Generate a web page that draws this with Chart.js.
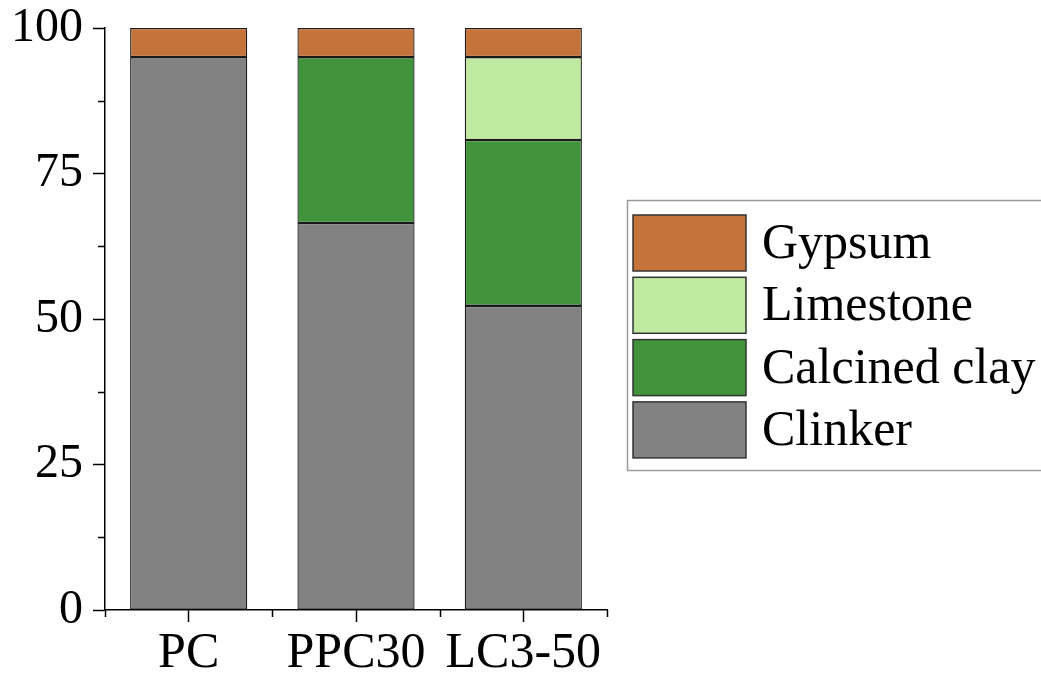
<!DOCTYPE html>
<html>
<head>
<meta charset="utf-8">
<script src="https://cdn.jsdelivr.net/npm/chart.js@4"></script>
<style>
    html, body { margin: 0; padding: 0; background: #fff; }
    canvas { display: block; }
</style>
</head>
<body>
<canvas id="grafica" width="1041" height="677"></canvas>
<script>
// ==============================
// DATOS
// ==============================
const categorias = ["PC", "PPC30", "LC3-50"];

const clinker = [95, 66.5, 52.25];
const arcillaCalcinada = [0, 28.5, 28.5];
const caliza = [0, 0, 14.25];
const yeso = [5, 5, 5];

const ticksY = [0, 25, 50, 75, 100];

// ==============================
// ESTILO
// ==============================
const FUENTE = '"Liberation Serif", "Times New Roman", serif';

const colores = {
    clinker: "#828282",
    arcilla: "#41943b",
    caliza: "#bfe8a0",
    yeso: "#c4733a"
};

function dataset(label, data, color) {
    return {
        label: label,
        data: data,
        backgroundColor: color,
        borderColor: "#1a1a1a",
        borderWidth: 1.3,
        borderSkipped: false,
        barPercentage: 0.7,
        categoryPercentage: 1
    };
}

// ==============================
// PLUGIN: ticks menores + leyenda
// ==============================
const extras = {
    id: "extras",
    afterDraw(chart) {
        const { ctx, chartArea, scales } = chart;
        const x = scales.x;
        const y = scales.y;

        ctx.save();
        ctx.strokeStyle = "#000";
        ctx.lineWidth = 1.5;

        // ticks menores eje Y (cada 12.5)
        for (let i = 0; i < ticksY.length - 1; i++) {
            const v = (ticksY[i] + ticksY[i + 1]) / 2;
            const py = Math.round(y.getPixelForValue(v)) + 0.5;
            ctx.beginPath();
            ctx.moveTo(chartArea.left, py);
            ctx.lineTo(chartArea.left - 7, py);
            ctx.stroke();
        }

        // ticks menores eje X (entre categorias)
        for (let i = 0; i <= categorias.length; i++) {
            const px = Math.round(x.getPixelForValue(i - 0.5)) + 0.5;
            ctx.beginPath();
            ctx.moveTo(px, chartArea.bottom);
            ctx.lineTo(px, chartArea.bottom + 7);
            ctx.stroke();
        }

        // leyenda con recuadro
        const lx = 627, ly = 200;
        ctx.strokeStyle = "#9a9a9a";
        ctx.lineWidth = 1.5;
        ctx.strokeRect(lx + 0.5, ly + 0.5, 440, 270);

        const items = chart.data.datasets.slice().reverse();
        ctx.font = "50px " + FUENTE;
        ctx.textBaseline = "middle";
        ctx.textAlign = "left";
        items.forEach((ds, i) => {
            const top = 215 + i * 62.3;
            ctx.fillStyle = ds.backgroundColor;
            ctx.fillRect(633, top, 113, 56);
            ctx.strokeStyle = "#333";
            ctx.lineWidth = 1.5;
            ctx.strokeRect(633, top, 113, 56);
            ctx.fillStyle = "#000";
            ctx.fillText(ds.label, 762, top + 30);
        });

        ctx.restore();
    }
};

// ==============================
// CHART
// ==============================
new Chart(document.getElementById("grafica"), {
    type: "bar",
    data: {
        labels: categorias,
        datasets: [
            dataset("Clinker", clinker, colores.clinker),
            dataset("Calcined clay", arcillaCalcinada, colores.arcilla),
            dataset("Limestone", caliza, colores.caliza),
            dataset("Gypsum", yeso, colores.yeso)
        ]
    },
    options: {
        responsive: false,
        animation: false,
        devicePixelRatio: 1,
        layout: {
            padding: { left: 0, top: 28, right: 434, bottom: 0 }
        },
        plugins: {
            legend: { display: false },
            tooltip: { enabled: false }
        },
        scales: {
            x: {
                stacked: true,
                afterFit: scale => {
                    scale.height = 67;
                    scale.paddingLeft = 0;
                    scale.paddingRight = 0;
                },
                border: { color: "#000", width: 1.5 },
                grid: {
                    offset: false,
                    drawOnChartArea: false,
                    tickLength: 12,
                    tickWidth: 1.5,
                    tickColor: "#000"
                },
                ticks: {
                    color: "#000",
                    padding: 2,
                    maxRotation: 0,
                    font: { family: FUENTE, size: 50 }
                }
            },
            y: {
                stacked: true,
                min: 0,
                max: 100,
                afterFit: scale => {
                    scale.width = 105;
                    scale.paddingTop = 0;
                    scale.paddingBottom = 0;
                },
                border: { color: "#000", width: 1.5 },
                grid: {
                    drawOnChartArea: false,
                    tickLength: 12,
                    tickWidth: 1.5,
                    tickColor: c => (ticksY.includes(c.tick.value) ? "#000" : "rgba(0,0,0,0)")
                },
                ticks: {
                    stepSize: 12.5,
                    color: "#000",
                    padding: 10,
                    font: { family: FUENTE, size: 48, lineHeight: 1 },
                    callback: v => (ticksY.includes(v) ? v : "")
                }
            }
        }
    },
    plugins: [extras]
});
</script>
</body>
</html>
